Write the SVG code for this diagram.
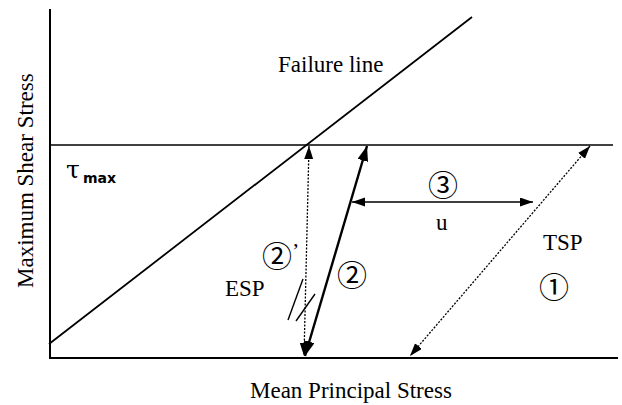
<svg xmlns="http://www.w3.org/2000/svg" width="622" height="405" viewBox="0 0 622 405">
<style>
  .lbl{font-family:"Liberation Serif","Times New Roman",serif;font-size:23px;fill:#000}
  .circ{font-family:"Noto Sans CJK JP","DejaVu Sans",sans-serif;font-size:30px;fill:#000}
  .axis{stroke:#000;stroke-width:2;fill:none}
  .thin{stroke:#000;stroke-width:1.4;fill:none}
  .dot{stroke:#000;stroke-width:1.3;stroke-dasharray:2 1.5;fill:none}
  .solid{stroke:#000;stroke-width:2.4;fill:none}
</style>
<defs>
  <marker id="ah" markerUnits="userSpaceOnUse" markerWidth="14" markerHeight="10" refX="13" refY="4.5" orient="auto-start-reverse">
    <path d="M0,0 L13,4.5 L0,9 z" fill="#000"/>
  </marker>
  <marker id="ahb" markerUnits="userSpaceOnUse" markerWidth="16" markerHeight="12" refX="15" refY="5.5" orient="auto-start-reverse">
    <path d="M0,0 L15,5.5 L0,11 z" fill="#000"/>
  </marker>
</defs>
<rect width="622" height="405" fill="#fff"/>
<g id="axes">
  <line class="axis" x1="50" y1="9" x2="50" y2="359"/>
  <line class="axis" x1="49" y1="358" x2="618" y2="358"/>
  <line class="thin" x1="50" y1="145" x2="613" y2="145"/>
</g>
<g id="failure-line">
  <line class="thin" style="stroke-width:1.8" x1="49" y1="344" x2="472" y2="17"/>
  <text class="lbl" x="278" y="72">Failure line</text>
</g>
<g id="tau-max">
  <text x="66" y="178" style="font-family:'DejaVu Serif',serif;font-size:25px">τ</text>
  <text x="83" y="183" style="font-family:'DejaVu Sans',sans-serif;font-size:14px;font-weight:bold">max</text>
</g>
<g id="connectors">
  <line id="path2p" class="dot" x1="309" y1="146" x2="304" y2="356" marker-start="url(#ah)" marker-end="url(#ah)"/>
  <line id="path2" class="solid" x1="367" y1="146" x2="305" y2="356" marker-start="url(#ahb)" marker-end="url(#ahb)"/>
  <line id="path3" class="thin" x1="352" y1="202" x2="533" y2="202" marker-start="url(#ah)" marker-end="url(#ah)"/>
  <line id="path1" class="dot" x1="590" y1="146" x2="410" y2="356" marker-start="url(#ah)" marker-end="url(#ah)"/>
  <line class="thin" x1="303" y1="279" x2="288" y2="320"/>
  <line class="thin" x1="315" y1="294" x2="296" y2="321"/>
</g>
<g id="labels">
  <text class="circ" x="277" y="267" text-anchor="middle">②</text>
  <text class="lbl" x="292" y="258" style="font-size:22px">’</text>
  <text class="lbl" x="225" y="296">ESP</text>
  <text class="circ" x="352" y="286" text-anchor="middle">②</text>
  <text class="circ" x="443" y="196" text-anchor="middle">③</text>
  <text class="lbl" x="436" y="230">u</text>
  <text class="lbl" x="543" y="250">TSP</text>
  <text class="circ" x="554" y="298" text-anchor="middle">①</text>
</g>
<g id="axis-labels">
  <text class="lbl" x="250" y="398">Mean Principal Stress</text>
  <text class="lbl" transform="translate(33,288) rotate(-90)">Maximum Shear Stress</text>
</g>
</svg>
